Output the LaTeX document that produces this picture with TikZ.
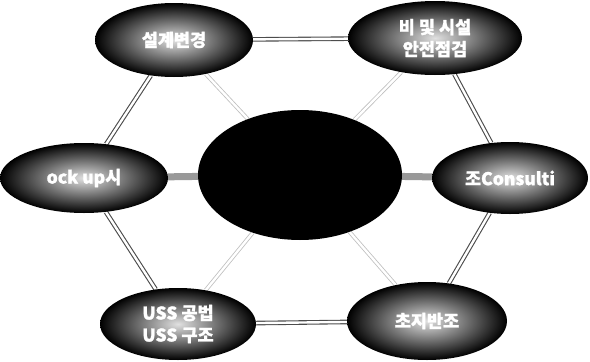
\documentclass[tikz,border=0pt]{standalone}
\usepackage{fontspec}
\newfontfamily\kr{Noto Sans CJK KR}[BoldFeatures={FakeBold=1.2}]
\usetikzlibrary{shapes.geometric,backgrounds}
\begin{document}
\begin{tikzpicture}[x=1pt,y=-1pt,
  blob/.style={ellipse, inner sep=0pt, draw=none, inner color=black!12, outer color=black},
  core/.style={ellipse, inner sep=0pt, fill=black},
  lbl/.style={text=white, font=\kr\bfseries\fontsize{17.5}{22}\selectfont, align=center, inner sep=0pt},
  hexlink/.style={draw=black!70, line width=1.1pt, double=white, double distance=2.4pt},
  spoke/.style={draw=black!25, line width=0.8pt, double=white, double distance=2.4pt},
  bar/.style={draw=black!40, line width=7pt}]
\useasboundingbox (0,0) rectangle (590,362);
\node[blob, minimum width=158pt, minimum height=74pt] (tl) at (174,40) {};
\node[blob, minimum width=174pt, minimum height=74pt] (tr) at (435,38) {};
\node[blob, minimum width=168pt, minimum height=70pt] (l) at (84,178) {};
\node[blob, minimum width=156pt, minimum height=72pt] (r) at (510,178) {};
\node[blob, minimum width=156pt, minimum height=72pt] (bl) at (178,324) {};
\node[blob, minimum width=160pt, minimum height=78pt] (br) at (427,321) {};
\node[core, minimum width=204pt, minimum height=130pt] (c) at (300,175) {};
\begin{scope}[on background layer]
  \draw[hexlink] (tl) -- (tr);
  \draw[hexlink] (tl) -- (l);
  \draw[hexlink] (l) -- (bl);
  \draw[hexlink] (bl) -- (br);
  \draw[hexlink] (tr) -- (r);
  \draw[hexlink] (r) -- (br);
  \draw[spoke] (c) -- (tl);
  \draw[spoke] (c) -- (tr);
  \draw[spoke] (c) -- (bl);
  \draw[spoke] (c) -- (br);
  \draw[bar] (c) -- (l);
  \draw[bar] (c) -- (r);
\end{scope}
\node[lbl] (tlt) at (tl) {설계변경};
\node[lbl] (trt) at (tr) {비 및 시설\\안전점검};
\node[lbl] (lt) at (l) {ock up시};
\node[lbl] (rt) at (r) {조Consulti};
\node[lbl] (blt) at (bl) {USS 공법\\USS 구조};
\node[lbl] (brt) at (br) {초지반조};
\end{tikzpicture}
\end{document}
